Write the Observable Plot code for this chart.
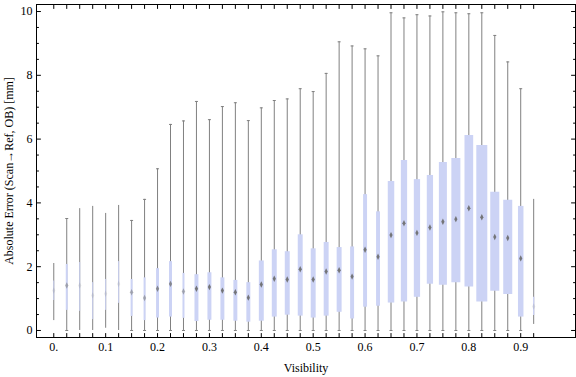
<!DOCTYPE html>
<html><head><meta charset="utf-8">
<script src="https://cdn.jsdelivr.net/npm/d3@7"></script>
<script src="https://cdn.jsdelivr.net/npm/@observablehq/plot@0.6"></script>
<style>body{margin:0;background:#fff}</style>
</head><body><div id="chart"></div>
<script>
const visibility = [0, 0.025, 0.05, 0.075, 0.1, 0.125, 0.15, 0.175, 0.2, 0.225, 0.25, 0.275, 0.3, 0.325, 0.35, 0.375, 0.4, 0.425, 0.45, 0.475, 0.5, 0.525, 0.55, 0.575, 0.6, 0.625, 0.65, 0.675, 0.7, 0.725, 0.75, 0.775, 0.8, 0.825, 0.85, 0.875, 0.9, 0.925];
const whiskerLow = [0.31, 0, 0, 0, 0.07, 0, 0, 0, 0, 0, 0, 0, 0, 0, 0, 0, 0, 0, 0, 0, 0, 0, 0, 0, 0, 0, 0, 0, 0, 0, 0, 0, 0, 0, 0, 0, 0, 0.19];
const q1 = [0.94, 0.63, 0.60, 0.34, 0.63, 0.85, 0.44, 0.31, 0.39, 0.42, 0.38, 0.28, 0.32, 0.32, 0.29, 0.26, 0.29, 0.42, 0.48, 0.45, 0.39, 0.45, 0.57, 0.36, 0.73, 0.76, 0.86, 0.89, 1.04, 1.45, 1.42, 1.50, 1.36, 0.89, 1.23, 1.13, 0.42, 0.47];
const median = [1.25, 1.41, 1.41, 1.10, 1.15, 1.46, 1.20, 1.02, 1.31, 1.46, 1.22, 1.31, 1.36, 1.25, 1.20, 1.03, 1.44, 1.62, 1.60, 1.92, 1.60, 1.85, 1.89, 1.69, 2.53, 2.31, 2.99, 3.36, 3.06, 3.23, 3.41, 3.49, 3.83, 3.55, 2.93, 2.90, 2.26, 0.75];
const q3 = [1.55, 2.07, 2.13, 1.50, 1.60, 2.16, 1.60, 1.65, 1.94, 2.16, 1.79, 1.75, 1.81, 1.65, 1.57, 1.50, 2.18, 2.53, 2.47, 3.00, 2.56, 2.76, 2.60, 2.62, 4.26, 3.72, 4.67, 5.33, 4.73, 4.86, 5.27, 5.39, 6.11, 5.80, 4.33, 4.08, 3.89, 1.04];
const whiskerHigh = [2.10, 3.51, 3.82, 3.89, 3.67, 3.92, 3.45, 4.11, 5.07, 6.46, 6.57, 7.18, 6.61, 7.02, 7.14, 6.58, 6.98, 7.21, 7.26, 7.58, 7.49, 8.06, 9.05, 8.92, 8.83, 8.61, 9.96, 9.80, 9.90, 9.86, 9.99, 9.96, 9.93, 9.96, 9.25, 8.42, 7.58, 4.11];
const relativeCount = [0.09, 0.18, 0.09, 0.09, 0.09, 0.09, 0.18, 0.18, 0.27, 0.27, 0.18, 0.36, 0.36, 0.36, 0.36, 0.36, 0.45, 0.45, 0.45, 0.45, 0.45, 0.45, 0.45, 0.36, 0.36, 0.36, 0.59, 0.57, 0.57, 0.57, 0.73, 0.82, 0.79, 1.0, 0.82, 0.82, 0.5, 0.12];
const xTickValues = [0, 0.1, 0.2, 0.3, 0.4, 0.5, 0.6, 0.7, 0.8, 0.9];
const xTickLabels = ["0.", "0.1", "0.2", "0.3", "0.4", "0.5", "0.6", "0.7", "0.8", "0.9"];
const yTickValues = [0, 2, 4, 6, 8, 10];
const yMinorValues = [0.5, 1, 1.5, 2.5, 3, 3.5, 4.5, 5, 5.5, 6.5, 7, 7.5, 8.5, 9, 9.5];
const xLabel = "Visibility";
const yLabel = "Absolute Error (Scan\u2192Ref, OB) [mm]";

const MAXW = 11;
const rows = visibility.map((v, i) => ({
  x: v, lo: whiskerLow[i], q1: q1[i], med: median[i], q3: q3[i], hi: whiskerHigh[i],
  w: relativeCount[i] * MAXW
}));
const capped = rows.filter(d => d.w >= 1.8);
const caps = capped.flatMap(d => [{x: d.x, y: d.lo}, {x: d.x, y: d.hi}]);

const tickShape = {draw(ctx, l) { ctx.moveTo(0, 0); ctx.lineTo(0, -l); }};
const hline = {draw(ctx, size) { const r = Math.sqrt(size / Math.PI); ctx.moveTo(-r, 0); ctx.lineTo(r, 0); }};
const vdiamond = {draw(ctx, size) { const r = Math.sqrt(size / Math.PI);
  ctx.moveTo(0, -r * 1.6); ctx.lineTo(r * 0.8, 0); ctx.lineTo(0, r * 1.6); ctx.lineTo(-r * 0.8, 0); ctx.closePath(); }};

const tickMark = (data, opts) => Plot.vector(data, {anchor: "start", shape: tickShape, stroke: "black", strokeWidth: 1, ...opts});

const chart = Plot.plot({
  width: 576, height: 377,
  marginLeft: 36, marginRight: 1, marginTop: 4, marginBottom: 40,
  style: {fontFamily: "'Liberation Serif', 'DejaVu Serif', serif", fontSize: "12px", color: "black", background: "white"},
  x: {domain: [-0.0333, 1.0056]},
  y: {domain: [-0.22, 10.22]},
  marks: [
    Plot.ruleX(rows, {x: "x", y1: "lo", y2: "hi", stroke: "#808080", strokeWidth: 1}),
    Plot.dot(caps, {x: "x", y: "y", symbol: hline, r: 1.5, stroke: "#808080", strokeWidth: 1, fill: "none"}),
    Plot.ruleX(rows, {x: "x", y1: "q1", y2: "q3", stroke: "#ccd3f5", strokeWidth: d => d.w}),
    Plot.dot(rows, {x: "x", y: "med", symbol: vdiamond, r: 2, fill: "#6a6a6a", stroke: "none", fillOpacity: d => d.w < 1.5 ? 0.15 : Math.min(0.9, d.w / 4)}),
    Plot.frame({stroke: "black", strokeWidth: 1}),
    tickMark(yTickValues, {y: d => d, frameAnchor: "left", rotate: 90, length: 4}),
    tickMark(yMinorValues, {y: d => d, frameAnchor: "left", rotate: 90, length: 2}),
    tickMark(yTickValues, {y: d => d, frameAnchor: "right", rotate: -90, length: 4}),
    tickMark(yMinorValues, {y: d => d, frameAnchor: "right", rotate: -90, length: 2}),
    tickMark(visibility, {x: d => d, frameAnchor: "bottom", rotate: 0, length: 4}),
    tickMark(visibility, {x: d => d, frameAnchor: "top", rotate: 180, length: 4}),
    Plot.axisX({ticks: xTickValues, tickFormat: d => xTickLabels[Math.round(d * 10)], tickSize: 0, tickPadding: 5, label: null, fontSize: 12}),
    Plot.axisY({ticks: yTickValues, tickFormat: d => String(d), tickSize: 0, tickPadding: 4, label: null, fontSize: 12}),
    Plot.text([xLabel], {text: d => d, frameAnchor: "bottom", dy: 31, lineAnchor: "middle", textAnchor: "middle", fontSize: 12}),
    Plot.text([yLabel], {text: d => d, frameAnchor: "left", rotate: -90, dx: -27, textAnchor: "middle", lineAnchor: "middle", fontSize: 12})
  ]
});
document.getElementById("chart").appendChild(chart);
</script>
</body></html>
